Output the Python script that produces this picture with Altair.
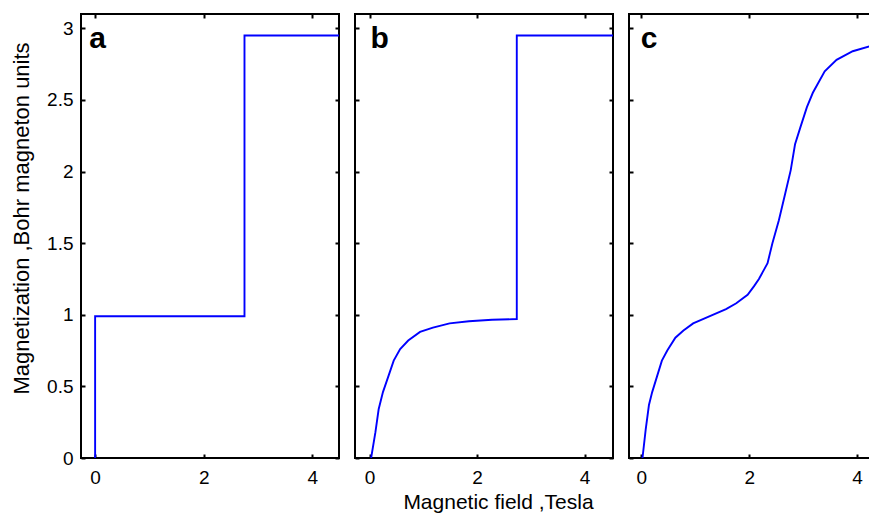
import altair as alt
import pandas as pd

# ---- data ----
y_ticks = [0, 0.5, 1, 1.5, 2, 2.5, 3]
x_ticks = [0, 2, 4]
panel_letters = ["a", "b", "c"]

a_field = [0.0, 0.0, 2.75, 2.75, 4.5]
a_mag = [0.0, 0.99, 0.99, 2.95, 2.95]

b_field = [0.03, 0.11, 0.17, 0.25, 0.36, 0.45, 0.57, 0.72, 0.94, 1.18, 1.49, 1.85,
           2.28, 2.74, 2.74, 4.55]
b_mag = [0.0, 0.18, 0.34, 0.46, 0.58, 0.68, 0.76, 0.82, 0.88, 0.91, 0.94, 0.955,
         0.965, 0.97, 2.95, 2.95]

c_field = [0.02, 0.08, 0.14, 0.20, 0.29, 0.38, 0.48, 0.63, 0.78, 0.96, 1.27, 1.57,
           1.76, 1.97, 2.09, 2.18, 2.34, 2.43, 2.55, 2.67, 2.77, 2.85, 2.95, 3.07,
           3.18, 3.40, 3.62, 3.92, 4.29, 4.5]
c_mag = [0.0, 0.20, 0.37, 0.46, 0.57, 0.68, 0.75, 0.84, 0.89, 0.94, 0.99, 1.04,
         1.08, 1.14, 1.20, 1.25, 1.36, 1.50, 1.66, 1.85, 2.01, 2.19, 2.31, 2.45,
         2.55, 2.70, 2.78, 2.84, 2.88, 2.90]

FONT = "Liberation Sans"
BLUE = "#0000ff"


def panel(field, mag, letter, letter_x, xdom, width, show_ylab, xtitle=None, ytitle=None):
    df = pd.DataFrame({"B": field, "M": mag, "i": list(range(len(field)))})
    xs = alt.Scale(domain=xdom, nice=False, zero=False)
    ys = alt.Scale(domain=[0, 3.1], nice=False, zero=False)

    common = dict(offset=-4, tickSize=4, domain=False, grid=False, minExtent=0)
    xax = dict(orient="bottom", values=x_ticks, labelPadding=10, format="~g", **common)
    if xtitle:
        xax.update(title=xtitle, titleX=143, titleAlign="center", titlePadding=4)
    else:
        xax.update(title=None)
    yax = dict(orient="left", values=y_ticks, labelPadding=8, format="~g",
               labels=show_ylab, **common)
    if ytitle:
        yax.update(title=ytitle, titleX=-64, titleY=204, titleAlign="center",
                   titleBaseline="middle", titleAngle=270)
    else:
        yax.update(title=None)

    line = alt.Chart(df).mark_line(color=BLUE, strokeWidth=1.9, clip=True).encode(
        x=alt.X("B:Q", scale=xs, axis=alt.Axis(**xax)),
        y=alt.Y("M:Q", scale=ys, axis=alt.Axis(**yax)),
        order="i:Q",
    )
    ghost = alt.Chart(df).mark_line(opacity=0, clip=True).encode(
        x=alt.X("B:Q", scale=xs, axis=alt.Axis(orient="top", values=x_ticks,
                                               labels=False, title=None, **common)),
        y=alt.Y("M:Q", scale=ys, axis=alt.Axis(orient="right", values=y_ticks,
                                               labels=False, title=None, **common)),
        order="i:Q",
    )
    lab = alt.Chart(pd.DataFrame({"t": [letter], "x": [letter_x], "y": [2.86]})).mark_text(
        font=FONT, fontSize=30, fontWeight="bold", align="left", baseline="alphabetic",
        color="black",
    ).encode(
        x=alt.X("x:Q", scale=xs, axis=None),
        y=alt.Y("y:Q", scale=ys, axis=None),
        text="t:N",
    )
    return alt.layer(line, ghost, lab).resolve_axis(x="independent", y="independent").properties(
        width=width, height=444
    )


pa = panel(a_field, a_mag, panel_letters[0], -0.11, [-0.26, 4.49], 258, True,
           ytitle="Magnetization ,Bohr magneton units")
pb = panel(b_field, b_mag, panel_letters[1], 0.02, [-0.27, 4.53], 258, False,
           xtitle="Magnetic field ,Tesla")
pc = panel(c_field, c_mag, panel_letters[2], -0.01, [-0.23, 4.5], 255, False)

chart = alt.hconcat(pa, pb, pc, spacing=12).properties(
    padding={"left": 0, "top": 4, "right": -17, "bottom": 0}
).configure_view(
    stroke="black", strokeWidth=2
).configure_axis(
    labelFont=FONT, labelFontSize=19, labelColor="black",
    titleFont=FONT, titleFontSize=21, titleFontWeight="normal", titleColor="black",
    tickColor="black", tickWidth=2,
).configure_axisLeft(
    titleFontSize=22
)

chart.save("out.html", embed_options={"renderer": "svg", "actions": False})
